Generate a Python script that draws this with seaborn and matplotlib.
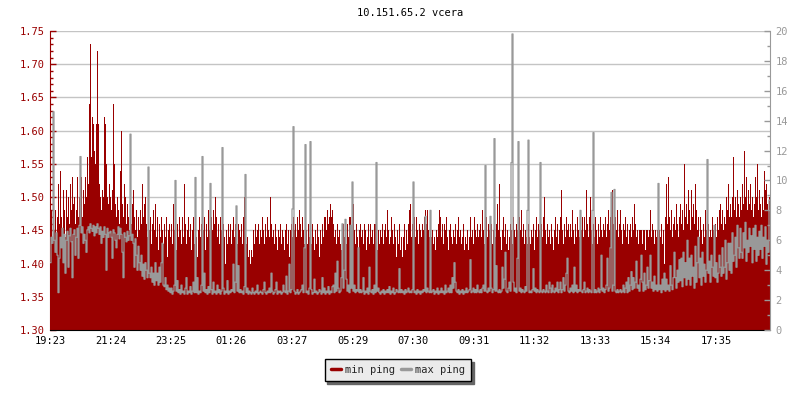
import numpy as np
import pandas as pd
import matplotlib
matplotlib.use("Agg")
import matplotlib.pyplot as plt
from matplotlib.lines import Line2D
from matplotlib.ticker import MultipleLocator, FormatStrFormatter
import seaborn as sns

title = "10.151.65.2 vcera"
series_names = ["min ping", "max ping"]
tick_labels = ["19:23", "21:24", "23:25", "01:26", "03:27", "05:29",
               "07:30", "09:31", "11:32", "13:33", "15:34", "17:35"]
step_minutes = 2

# min ping (left axis), 2-minute samples, one list per 2 hours
min_1 = [1.39,1.48,1.44,1.47,1.45,1.48,1.42,1.47,1.52,1.46, 1.54,1.47,1.45,1.51,1.48,1.44,1.51,1.47,1.50,1.46,
         1.52,1.48,1.53,1.49,1.50,1.46,1.48,1.53,1.47,1.50, 1.49,1.53,1.47,1.51,1.49,1.53,1.50,1.56,1.52,1.64,
         1.73,1.56,1.62,1.61,1.57,1.55,1.61,1.72,1.61,1.52, 1.50,1.48,1.51,1.50,1.62,1.61,1.55,1.50,1.49,1.52]
min_2 = [1.50,1.48,1.51,1.64,1.55,1.49,1.47,1.50,1.48,1.46, 1.54,1.60,1.49,1.47,1.52,1.50,1.46,1.49,1.47,1.45,
         1.48,1.46,1.49,1.51,1.47,1.45,1.48,1.44,1.47,1.45, 1.48,1.46,1.52,1.47,1.49,1.50,1.46,1.44,1.48,1.45,
         1.47,1.43,1.46,1.48,1.45,1.49,1.44,1.47,1.42,1.46, 1.44,1.47,1.45,1.43,1.46,1.44,1.47,1.41,1.45,1.46]
min_3 = [1.44,1.46,1.43,1.49,1.45,1.47,1.42,1.46,1.44,1.47, 1.45,1.43,1.47,1.44,1.52,1.46,1.43,1.45,1.47,1.44,
         1.46,1.42,1.45,1.47,1.43,1.46,1.44,1.41,1.45,1.47, 1.44,1.46,1.43,1.45,1.47,1.42,1.46,1.44,1.48,1.45,
         1.43,1.47,1.45,1.48,1.46,1.50,1.47,1.44,1.46,1.43, 1.47,1.45,1.42,1.46,1.44,1.40,1.45,1.43,1.46,1.44]
min_4 = [1.46,1.43,1.45,1.47,1.44,1.46,1.47,1.43,1.46,1.45, 1.44,1.46,1.43,1.47,1.50,1.45,1.43,1.44,1.41,1.42,
         1.40,1.42,1.41,1.45,1.43,1.46,1.44,1.45,1.46,1.43, 1.45,1.44,1.47,1.45,1.43,1.46,1.44,1.47,1.45,1.44,
         1.50,1.46,1.44,1.45,1.43,1.46,1.44,1.42,1.45,1.44, 1.46,1.43,1.45,1.44,1.42,1.45,1.46,1.43,1.45,1.41]
min_5 = [1.45,1.46,1.44,1.47,1.45,1.46,1.44,1.47,1.45,1.48, 1.46,1.44,1.47,1.45,1.43,1.46,1.45,1.43,1.46,1.44,
         1.45,1.43,1.46,1.44,1.42,1.45,1.43,1.46,1.44,1.41, 1.45,1.43,1.46,1.44,1.47,1.47,1.45,1.48,1.46,1.47,
         1.49,1.47,1.48,1.46,1.44,1.45,1.43,1.46,1.44,1.45, 1.43,1.42,1.45,1.46,1.44,1.46,1.43,1.46,1.44,1.47]
min_6 = [1.47,1.44,1.45,1.49,1.45,1.43,1.46,1.44,1.42,1.45, 1.46,1.44,1.45,1.43,1.46,1.45,1.42,1.44,1.46,1.43,
         1.46,1.44,1.45,1.43,1.46,1.46,1.44,1.42,1.45,1.43, 1.45,1.44,1.46,1.43,1.45,1.46,1.44,1.48,1.45,1.43,
         1.44,1.47,1.45,1.43,1.46,1.44,1.41,1.45,1.43,1.46, 1.42,1.44,1.41,1.44,1.46,1.42,1.45,1.43,1.46,1.48]
min_7 = [1.49,1.44,1.46,1.45,1.47,1.44,1.47,1.45,1.43,1.46, 1.45,1.44,1.46,1.45,1.47,1.48,1.46,1.48,1.45,1.44,
         1.46,1.44,1.45,1.43,1.44,1.42,1.45,1.44,1.46,1.48, 1.47,1.44,1.46,1.43,1.46,1.45,1.47,1.44,1.42,1.45,
         1.46,1.44,1.43,1.45,1.44,1.46,1.43,1.45,1.47,1.44, 1.45,1.43,1.44,1.46,1.42,1.44,1.43,1.45,1.42,1.44]
min_8 = [1.47,1.44,1.45,1.43,1.47,1.45,1.44,1.46,1.44,1.45, 1.46,1.44,1.48,1.45,1.43,1.46,1.47,1.44,1.46,1.45,
         1.44,1.46,1.43,1.45,1.47,1.44,1.46,1.49,1.45,1.52, 1.44,1.42,1.45,1.47,1.44,1.46,1.43,1.45,1.42,1.44,
         1.46,1.45,1.43,1.47,1.45,1.44,1.46,1.45,1.43,1.47, 1.45,1.48,1.44,1.46,1.43,1.45,1.44,1.43,1.46,1.44]
min_9 = [1.43,1.45,1.44,1.46,1.42,1.45,1.47,1.44,1.46,1.45, 1.48,1.46,1.44,1.47,1.50,1.45,1.43,1.46,1.44,1.45,
         1.43,1.46,1.44,1.42,1.45,1.47,1.44,1.46,1.43,1.45, 1.47,1.51,1.45,1.43,1.46,1.44,1.47,1.45,1.46,1.44,
         1.46,1.44,1.48,1.45,1.43,1.46,1.44,1.47,1.45,1.44, 1.48,1.45,1.47,1.44,1.47,1.45,1.51,1.46,1.44,1.47]
min_10 = [1.50,1.45,1.43,1.46,1.44,1.47,1.45,1.43,1.46,1.44, 1.47,1.45,1.44,1.46,1.45,1.47,1.44,1.46,1.48,1.45,
          1.47,1.45,1.51,1.46,1.44,1.47,1.45,1.48,1.44,1.46, 1.48,1.45,1.43,1.46,1.45,1.47,1.44,1.46,1.43,1.45,
          1.46,1.44,1.47,1.45,1.49,1.46,1.44,1.45,1.43,1.45, 1.45,1.45,1.43,1.45,1.45,1.42,1.45,1.45,1.44,1.45]
min_11 = [1.48,1.44,1.46,1.45,1.43,1.45,1.44,1.45,1.42,1.45, 1.44,1.46,1.43,1.45,1.40,1.47,1.52,1.46,1.53,1.47,
          1.45,1.48,1.44,1.46,1.47,1.45,1.49,1.46,1.44,1.47, 1.49,1.46,1.48,1.45,1.55,1.47,1.49,1.46,1.51,1.48,
          1.45,1.51,1.47,1.49,1.46,1.52,1.48,1.45,1.47,1.44, 1.47,1.45,1.43,1.46,1.44,1.48,1.45,1.43,1.46,1.44]
min_12 = [1.45,1.44,1.47,1.45,1.43,1.46,1.44,1.47,1.45,1.48, 1.49,1.46,1.48,1.45,1.47,1.46,1.50,1.48,1.52,1.47,
          1.49,1.47,1.50,1.56,1.48,1.50,1.47,1.51,1.49,1.47, 1.50,1.48,1.52,1.49,1.57,1.50,1.53,1.48,1.51,1.49,
          1.52,1.48,1.50,1.47,1.49,1.53,1.50,1.55,1.48,1.51, 1.49,1.47,1.50,1.48,1.54,1.51,1.52,1.49,1.48,1.50]

# max ping (right axis), same samples
max_1 = [4.5,6.2,5.8,14.6,6.0,5.2,6.5,5.0,2.5,4.8, 6.2,5.5,6.8,4.5,6.4,3.8,6.0,6.6,4.2,6.3,
         6.8,5.9,3.5,6.4,6.7,5.0,6.2,6.8,4.8,7.0, 11.6,6.5,6.9,5.8,6.4,6.0,5.2,6.7,6.9,6.5,
         7.1,6.8,6.6,7.0,6.3,6.9,6.5,7.1,6.8,6.4, 6.9,5.8,6.6,6.2,6.9,6.4,4.0,6.8,6.2,6.5]
max_2 = [6.6,6.2,4.8,6.7,6.5,6.0,5.5,6.4,6.9,6.1, 6.8,6.4,5.2,3.5,6.5,6.2,5.9,6.6,6.0,6.3,
         13.1,6.0,6.4,5.8,4.2,6.1,5.0,4.0,5.6,4.5, 4.0,5.0,3.6,4.4,3.4,4.5,4.0,3.5,10.9,3.8,
         3.5,4.2,3.2,3.8,3.0,4.5,3.3,3.8,3.0,4.2, 3.2,4.5,5.8,3.0,2.9,3.5,2.7,3.0,2.6,2.8]
max_3 = [2.5,2.8,2.4,2.6,3.0,10.0,2.6,3.3,2.5,2.7, 2.4,3.0,2.5,2.6,2.4,2.8,3.5,2.4,2.6,2.5,
         2.9,2.4,2.6,3.2,2.5,10.2,2.5,3.5,2.4,2.6, 2.5,3.0,11.6,2.6,3.8,2.5,2.7,2.4,2.9,2.5,
         9.8,2.7,2.4,3.2,2.5,2.6,2.4,3.0,2.5,2.7, 2.4,2.6,12.2,2.8,2.4,2.6,2.5,3.3,2.4,2.6]
max_4 = [2.5,2.7,2.6,4.4,2.5,3.2,8.3,2.6,4.3,2.5, 2.7,2.5,2.6,2.4,2.9,10.4,2.5,2.8,2.4,2.6,
         2.5,2.4,2.8,2.5,2.4,2.6,2.5,3.0,2.4,2.5, 2.6,2.5,2.4,2.7,3.2,2.5,2.4,2.6,2.5,2.8,
         2.5,3.8,2.6,2.4,2.5,2.7,3.2,2.4,2.6,2.5, 2.6,2.4,2.5,3.0,2.6,2.5,3.6,2.4,2.6,4.4]
max_5 = [2.5,2.7,8.1,13.6,2.6,2.4,2.5,2.7,2.4,2.5, 2.6,2.7,3.0,2.5,5.5,12.4,2.5,2.6,2.4,2.8,
         12.6,2.7,2.4,2.5,3.4,2.5,2.6,2.4,2.5,2.7, 2.6,2.4,3.5,2.5,2.8,2.4,2.6,2.5,2.9,2.4,
         2.6,2.5,2.9,3.0,2.5,3.8,2.6,4.6,2.8,2.5, 2.6,3.5,7.1,2.8,4.0,7.4,3.4,2.6,3.0,2.5]
max_6 = [7.0,2.8,9.9,2.6,3.0,2.5,2.7,2.6,5.5,2.5, 2.7,2.5,2.6,3.5,2.4,2.6,2.5,2.8,2.4,4.2,
         2.6,2.5,2.7,2.4,3.0,2.5,11.2,2.6,2.8,2.5, 2.4,2.6,2.5,2.7,2.4,2.6,2.5,2.7,2.5,2.9,
         2.4,2.6,2.5,2.8,2.4,2.5,2.7,2.6,2.5,4.1, 2.5,2.7,2.5,2.6,2.4,2.7,2.5,2.6,2.8,2.5]
max_7 = [2.6,2.5,2.7,9.9,2.5,2.6,2.4,2.7,2.5,2.6, 2.4,2.6,2.5,2.7,2.6,7.6,2.5,2.8,2.6,2.5,
         8.0,2.5,2.6,2.7,2.4,2.6,2.5,2.8,2.4,2.6, 2.5,2.8,2.5,2.6,2.4,3.0,2.5,2.6,2.8,2.5,
         3.0,2.5,3.5,2.8,4.5,3.2,2.6,2.5,2.7,2.4, 2.6,2.5,2.7,2.4,2.6,2.5,2.8,2.5,2.6,2.7]
max_8 = [4.7,2.5,2.6,2.8,2.5,2.7,2.5,3.0,2.6,2.5, 2.7,2.5,2.8,3.0,2.6,11.0,2.6,2.5,2.8,2.6,
         7.6,2.8,2.5,2.7,12.8,2.6,4.3,2.6,2.5,2.7, 2.5,2.6,4.2,2.8,3.4,5.2,2.6,2.5,2.8,3.2,
         2.6,11.2,19.8,3.2,2.6,2.8,2.5,4.8,12.6,2.6, 2.8,2.5,2.7,2.6,2.5,2.9,2.6,8.0,12.7,2.5]
max_9 = [2.6,2.5,2.7,4.1,2.6,2.8,2.5,2.7,2.6,2.5, 11.2,2.6,2.5,2.7,2.6,2.5,3.0,2.6,2.5,3.2,
         2.8,2.5,3.0,2.6,2.5,2.8,2.6,3.2,2.5,2.7, 3.2,2.5,2.7,3.5,2.6,3.0,3.8,4.8,2.6,2.5,
         2.8,2.6,3.0,2.5,4.2,2.6,3.0,2.5,2.7,2.6, 8.0,2.6,2.5,2.7,3.2,2.5,2.6,2.8,2.5,2.7]
max_10 = [2.6,2.5,8.0,13.2,2.5,2.7,2.5,2.6,2.8,2.5, 2.7,5.0,2.6,2.8,2.5,2.7,3.0,4.8,2.6,2.8,
          5.5,9.2,2.6,3.0,9.4,2.6,2.5,2.7,2.5,2.6, 2.7,2.5,2.6,3.0,2.5,2.8,3.2,2.5,3.5,2.6,
          3.0,3.9,2.7,3.5,2.8,3.2,4.6,2.8,3.0,2.6, 3.4,5.0,3.2,2.6,3.8,2.7,3.0,4.2,2.8,3.3]
max_11 = [5.0,2.8,3.2,2.6,3.6,2.7,3.0,2.6,9.8,2.7, 3.0,2.5,3.4,2.7,3.8,2.6,3.4,2.7,3.0,2.6,
          4.3,3.0,2.7,3.5,5.2,3.5,2.8,4.0,3.2,4.7, 3.3,4.8,2.9,5.2,3.5,4.5,3.0,6.0,3.4,4.8,
          3.0,5.0,3.6,4.2,2.8,5.6,3.2,4.5,6.2,3.5, 4.8,3.0,5.2,3.6,4.4,3.2,4.0,11.4,3.8,4.6]
max_12 = [3.2,5.0,4.2,3.6,7.0,3.5,4.5,3.2,3.8,5.0, 4.2,3.6,5.5,3.8,4.2,6.0,3.4,4.5,5.8,4.0,
          5.8,3.8,6.5,4.6,5.0,6.2,4.2,7.0,5.5,4.8, 6.8,5.2,4.8,6.5,5.5,7.2,4.6,6.0,5.2,6.8,
          5.6,6.3,4.5,6.8,5.4,7.0,4.6,6.2,5.0,6.6, 5.4,7.0,4.8,6.2,5.6,6.9,4.4,6.0,5.2,8.7]

min_ping = np.array(min_1 + min_2 + min_3 + min_4 + min_5 + min_6 +
                    min_7 + min_8 + min_9 + min_10 + min_11 + min_12)
max_ping = np.array(max_1 + max_2 + max_3 + max_4 + max_5 + max_6 +
                    max_7 + max_8 + max_9 + max_10 + max_11 + max_12)
n = len(min_ping)
t = np.arange(n) * step_minutes + step_minutes / 2.0
df = pd.DataFrame({"t": t, "min": min_ping, "max": max_ping})


def label_to_min(lbl, start=tick_labels[0]):
    h, m = map(int, lbl.split(":"))
    h0, m0 = map(int, start.split(":"))
    return ((h * 60 + m) - (h0 * 60 + m0)) % 1440


tick_pos = [label_to_min(l) for l in tick_labels]

RED = "#990000"
GRAY = "#999999"
GRID = "#c4c4c4"

sns.set_style("white")
plt.rcParams["font.family"] = ["DejaVu Sans Mono"]
plt.rcParams["font.size"] = 7.5

fig = plt.figure(figsize=(8, 4), dpi=100)
ax = fig.add_axes([50 / 800, 70 / 400, 720 / 800, 299 / 400])

sns.barplot(data=df, x="t", y="min", ax=ax, native_scale=True, width=1,
            color=RED, saturation=1, errorbar=None, linewidth=0)
for p in ax.patches:
    p.set_antialiased(False)
    p.set_edgecolor("none")
    p.set_linewidth(0)

ax.set_xlim(0, n * step_minutes)
ax.set_ylim(1.30, 1.75)
ax.yaxis.set_major_locator(MultipleLocator(0.05))
ax.yaxis.set_minor_locator(MultipleLocator(0.01))
ax.set_axisbelow(True)
ax.grid(axis="y", which="major", color=GRID, linewidth=1)
ax.grid(axis="x", visible=False)
ax.set_xticks(tick_pos)
ax.set_xticklabels(tick_labels)
ax.tick_params(axis="x", direction="in", length=4, width=1, color="black",
               labelcolor="black", labelsize=7.5, pad=4)
ax.tick_params(axis="y", which="major", direction="in", length=4, width=1,
               color=RED, labelcolor=RED, labelsize=7.5, pad=4)
ax.tick_params(axis="y", which="minor", direction="in", length=2, width=1,
               color=RED, left=True)
ax.yaxis.set_major_formatter(FormatStrFormatter("%.2f"))
ax.set_xlabel("")
ax.set_ylabel("")
ax.spines["top"].set_visible(False)
ax.spines["right"].set_visible(False)
ax.spines["left"].set_color(RED)
ax.spines["bottom"].set_color("black")

ax2 = ax.twinx()
sns.lineplot(data=df, x="t", y="max", ax=ax2, color=GRAY, linewidth=0.9,
             drawstyle="steps-mid", legend=False)
ax2.set_ylim(0, 20)
ax2.set_xlim(0, n * step_minutes)
ax2.yaxis.set_major_locator(MultipleLocator(2))
ax2.yaxis.set_minor_locator(MultipleLocator(1))
ax2.tick_params(axis="y", which="major", direction="in", length=4, width=1,
                color=GRAY, labelcolor=GRAY, labelsize=7.5, pad=4)
ax2.tick_params(axis="y", which="minor", direction="in", length=2, width=1,
                color=GRAY, right=True)
ax2.grid(False)
ax2.set_ylabel("")
ax2.set_xlabel("")
for s in ["top", "left", "bottom"]:
    ax2.spines[s].set_visible(False)
ax2.spines["right"].set_color(GRAY)

fig.text(410 / 800, 1 - 13 / 400, title, ha="center", va="center",
         fontsize=7.5, color="black")

handles = [Line2D([], [], color=RED, linewidth=2.5),
           Line2D([], [], color=GRAY, linewidth=2.5)]
leg = fig.legend(handles=handles, labels=series_names, loc="center",
                 bbox_to_anchor=(398 / 800, 1 - 370 / 400), ncol=2,
                 frameon=True, fancybox=False, edgecolor="black",
                 facecolor="#ebebeb", framealpha=1,
                 shadow={"color": "#666666", "alpha": 1},
                 handlelength=1.0, handletextpad=0.4, columnspacing=0.5,
                 borderpad=0.6, fontsize=7.5)
leg.get_frame().set_linewidth(1)

fig.savefig("out.png", dpi=100)
